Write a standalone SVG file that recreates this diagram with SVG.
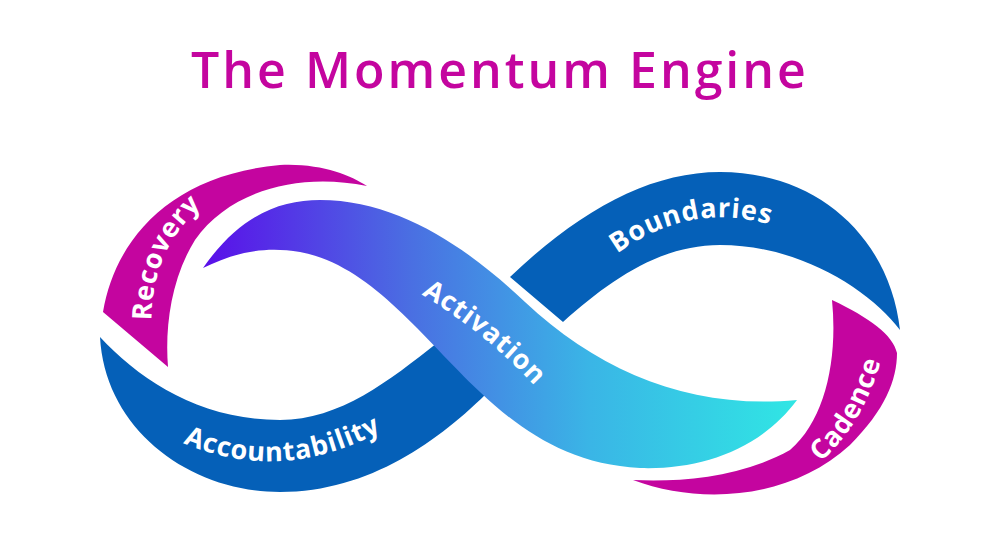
<svg xmlns="http://www.w3.org/2000/svg" width="1000" height="550" viewBox="0 0 1000 550">
<defs>
<linearGradient id="g" gradientUnits="userSpaceOnUse" x1="203" y1="0" x2="797" y2="0">
<stop offset="0" stop-color="#5a0fe9"/><stop offset="0.35" stop-color="#4a6fe2"/><stop offset="0.65" stop-color="#3ab5e6"/><stop offset="1" stop-color="#30e6e4"/>
</linearGradient>
<path id="pRec" d="M152,336 C148,280 165,232 214,196"/>
<path id="pAcc" d="M160,432 Q280,497 404,418"/>
<path id="pAct" d="M410,288 Q485,330 544,396"/>
<path id="pBou" d="M604,264 Q690,193 786,230"/>
<path id="pCad" d="M802,476 Q868,432 886,338"/>
<style>
.lbl{font-family:"Open Sans","DejaVu Sans",sans-serif;font-weight:700;font-size:27px;letter-spacing:0.8px;fill:#fff}
.mag{fill:#c4059f}.blue{fill:#0560b8}
</style>
</defs>
<text x="500" y="88" text-anchor="middle" style="font-family:'Open Sans','DejaVu Sans',sans-serif;font-weight:600;font-size:50px;fill:#c4059f;letter-spacing:3px">The Momentum Engine</text>
<g id="recovery"><path class="mag" d="M103,312 C115,240 170,175 280,165 C320,163 350,175 367,186 C300,172 230,190 195,240 C170,280 165,330 168,367 Z"/><text class="lbl"><textPath href="#pRec" startOffset="50%" text-anchor="middle">Recovery</textPath></text></g>
<g id="accountability"><path class="blue" d="M100,337 C140,380 200,420 280,420 C340,420 390,380 437,343 L490,390 C440,440 370,492 280,492 C190,492 105,430 100,337 Z"/><text class="lbl"><textPath href="#pAcc" startOffset="50%" text-anchor="middle">Accountability</textPath></text></g>
<g id="boundaries"><path class="blue" d="M510,277 C580,210 650,172 720,172 C820,172 890,240 900,330 C870,290 800,245 720,245 C660,245 610,280 563,322 Z"/><text class="lbl"><textPath href="#pBou" startOffset="50%" text-anchor="middle">Boundaries</textPath></text></g>
<g id="cadence"><path class="mag" d="M832,300 C870,318 893,335 897,353 C897,380 885,410 850,445 C790,500 700,505 633,480 C680,482 740,478 790,450 C825,420 838,360 832,300 Z"/><text class="lbl"><textPath href="#pCad" startOffset="50%" text-anchor="middle">Cadence</textPath></text></g>
<g id="activation"><path fill="url(#g)" d="M203,268 C240,215 280,200 320,200 C400,200 470,250 525,302 C600,372 690,410 797,400 C760,450 700,470 640,468 C570,465 520,430 480,392 C420,335 370,265 300,252 C260,245 230,255 203,268 Z"/><text class="lbl"><textPath href="#pAct" startOffset="50%" text-anchor="middle">Activation</textPath></text></g>
<g id="connectors"/>
</svg>
